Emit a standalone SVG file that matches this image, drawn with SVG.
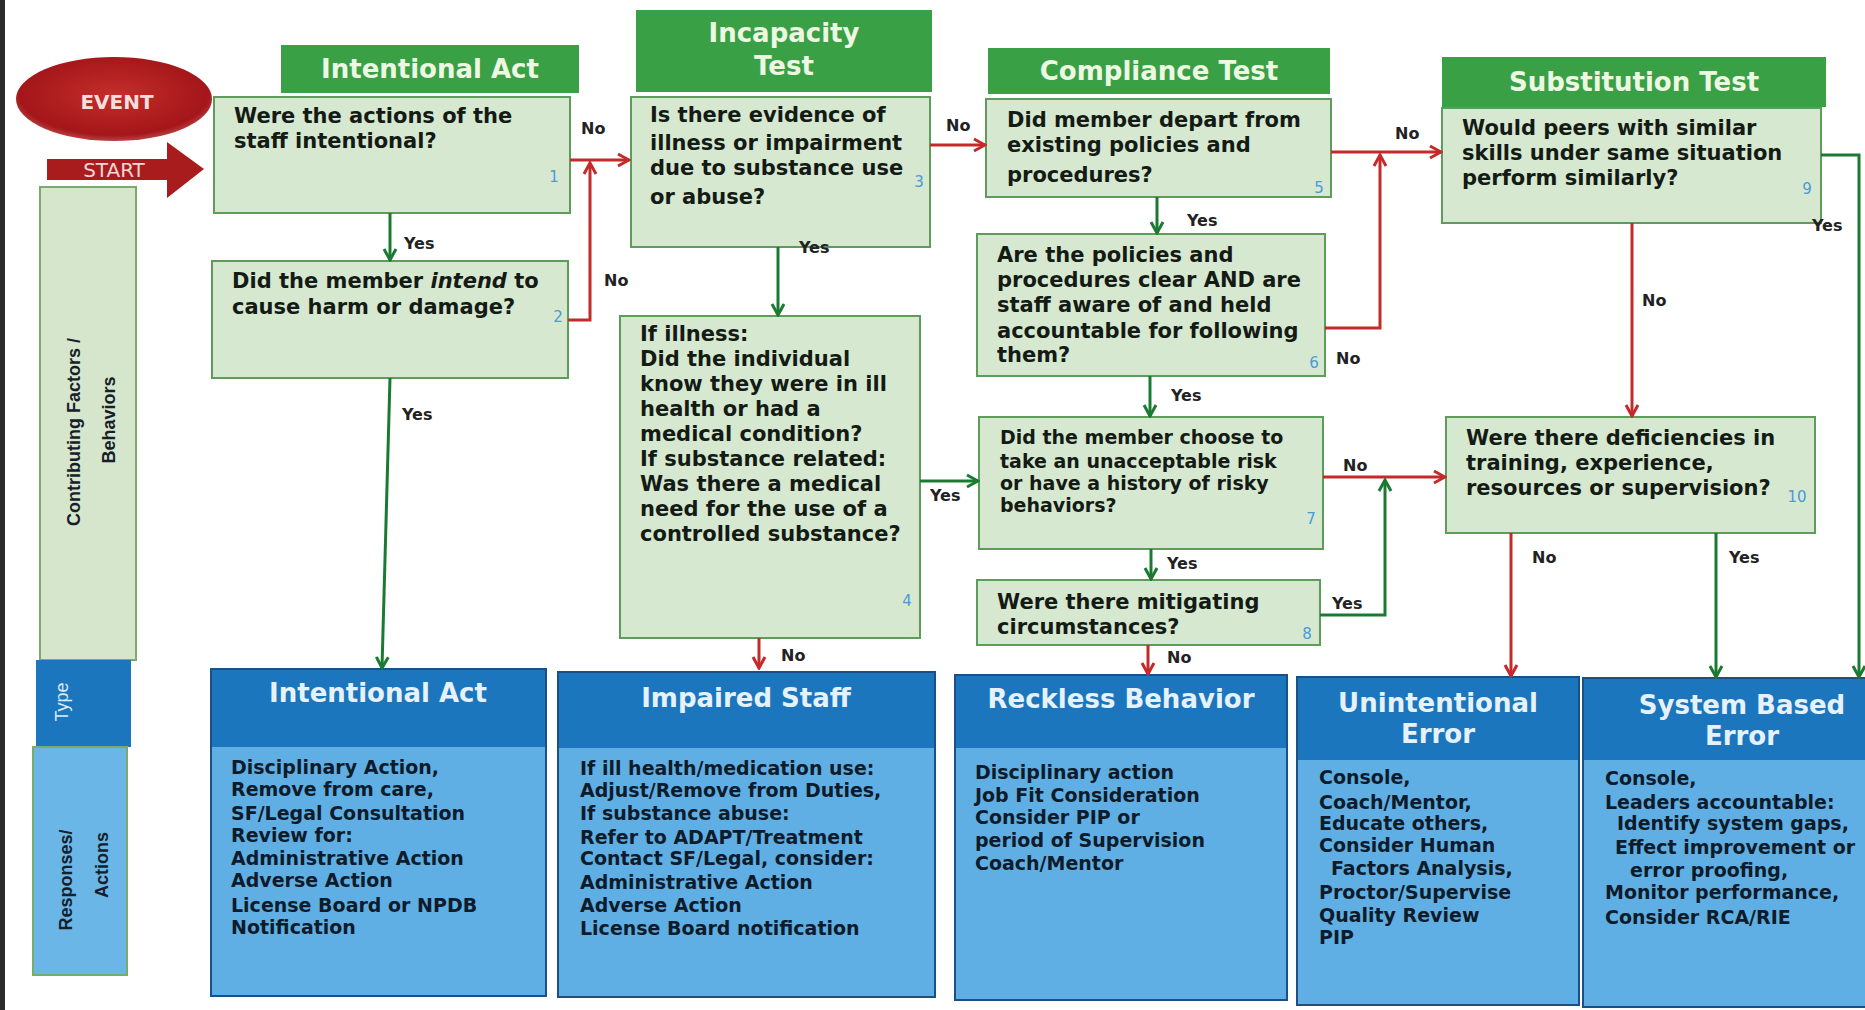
<svg xmlns="http://www.w3.org/2000/svg" width="1865" height="1010" viewBox="0 0 1865 1010">
<defs>
<style>
.t{font-family:"DejaVu Sans","Liberation Sans",sans-serif;font-weight:bold}
.q{font-size:21px;fill:#141a14}
.q7{font-size:19px;fill:#141a14}
.body{font-size:19px;fill:#0e1b2a}
.hdr{font-size:26px;fill:#edf8e2;text-anchor:middle}
.ttl{font-size:26px;fill:#e6f2fb;text-anchor:middle}
.lbl{font-size:16px;fill:#222}
.num{font-family:"DejaVu Sans",sans-serif;font-size:15px;fill:#4a9ad6;text-anchor:middle}
.side{font-family:"Liberation Sans",Arial,sans-serif;font-weight:bold;font-size:18px;fill:#15202a;text-anchor:middle}
.qbox{fill:#d6e8d0;stroke:#5f9c5c;stroke-width:2}
.ghdr{fill:#3aa046}
.bout{fill:#5fafe4;stroke:#1b4f86;stroke-width:2}
.bband{fill:#1c76be}
.cr{fill:none;stroke:#c42a2a;stroke-width:3}
.cg{fill:none;stroke:#1b7a32;stroke-width:3}
</style>
<marker id="ar" viewBox="0 0 16 16" refX="14" refY="8" markerWidth="16" markerHeight="16" markerUnits="userSpaceOnUse" orient="auto">
<path d="M3,2 L14,8 L3,14" fill="none" stroke="#c42a2a" stroke-width="3"/>
</marker>
<marker id="ag" viewBox="0 0 16 16" refX="14" refY="8" markerWidth="16" markerHeight="16" markerUnits="userSpaceOnUse" orient="auto">
<path d="M3,2 L14,8 L3,14" fill="none" stroke="#1b7a32" stroke-width="3"/>
</marker>
<radialGradient id="evg" cx="50%" cy="45%" r="60%">
<stop offset="0" stop-color="#c42e2a"/>
<stop offset="0.8" stop-color="#a4161a"/>
<stop offset="1" stop-color="#c86060"/>
</radialGradient>
</defs>
<rect x="0" y="0" width="1865" height="1010" fill="#ffffff"/>
<rect x="0" y="0" width="5" height="1010" fill="#2b2b2b"/>

<g id="event">
<ellipse cx="114" cy="99" rx="98" ry="42" fill="url(#evg)"/>
<text class="t" x="117" y="109" font-size="20" fill="#f6dede" text-anchor="middle">EVENT</text>
</g>
<g id="start">
<path d="M47,159 H167 V142 L204,169 L167,198 V180 H47 Z" fill="#a81c1e"/>
<text x="114" y="177" font-family="DejaVu Sans,sans-serif" font-size="20" fill="#f6d6d6" text-anchor="middle">START</text>
</g>

<g id="lane-labels">
<rect x="40" y="187" width="96" height="473" fill="#d5e6cc" stroke="#7aab6e" stroke-width="2"/>
<rect x="36" y="660" width="95" height="87" fill="#1c76be"/>
<rect x="33" y="747" width="94" height="228" fill="#6ab6e6" stroke="#7aab6e" stroke-width="2"/>
<text class="side" transform="translate(80,432) rotate(-90)">Contributing Factors /</text>
<text class="side" transform="translate(115,420) rotate(-90)">Behaviors</text>
<text class="side" transform="translate(68,702) rotate(-90)" style="fill:#dcecf8;font-weight:normal">Type</text>
<text class="side" transform="translate(72,880) rotate(-90)">Responses/</text>
<text class="side" transform="translate(108,865) rotate(-90)">Actions</text>
</g>

<g id="hdr-intentional"><rect class="ghdr" x="281" y="45" width="298" height="48"/><text class="t hdr" x="430" y="78">Intentional Act</text></g>
<g id="hdr-incapacity"><rect class="ghdr" x="636" y="10" width="296" height="82"/><text class="t hdr" x="784" y="42">Incapacity</text><text class="t hdr" x="784" y="75">Test</text></g>
<g id="hdr-compliance"><rect class="ghdr" x="988" y="48" width="342" height="46"/><text class="t hdr" x="1159" y="80">Compliance Test</text></g>
<g id="hdr-substitution"><rect class="ghdr" x="1442" y="57" width="384" height="50"/><text class="t hdr" x="1634" y="91">Substitution Test</text></g>

<g id="q1"><rect class="qbox" x="214" y="97" width="356" height="116"/>
<text class="t q" x="234" y="123">Were the actions of the</text>
<text class="t q" x="234" y="148">staff intentional?</text>
<text class="num" x="554" y="182">1</text></g>

<g id="q2"><rect class="qbox" x="212" y="261" width="356" height="117"/>
<text class="t q" x="232" y="288">Did the member <tspan font-style="italic">intend</tspan> to</text>
<text class="t q" x="232" y="314">cause harm or damage?</text>
<text class="num" x="558" y="322">2</text></g>

<g id="q3"><rect class="qbox" x="631" y="97" width="299" height="150"/>
<text class="t q" x="650" y="122">Is there evidence of</text>
<text class="t q" x="650" y="150">illness or impairment</text>
<text class="t q" x="650" y="175">due to substance use</text>
<text class="t q" x="650" y="204">or abuse?</text>
<text class="num" x="919" y="187">3</text></g>

<g id="q4"><rect class="qbox" x="620" y="316" width="300" height="322"/>
<text class="t q" x="640" y="341">If illness:</text>
<text class="t q" x="640" y="366">Did the individual</text>
<text class="t q" x="640" y="391">know they were in ill</text>
<text class="t q" x="640" y="416">health or had a</text>
<text class="t q" x="640" y="441">medical condition?</text>
<text class="t q" x="640" y="466">If substance related:</text>
<text class="t q" x="640" y="491">Was there a medical</text>
<text class="t q" x="640" y="516">need for the use of a</text>
<text class="t q" x="640" y="541">controlled substance?</text>
<text class="num" x="907" y="606">4</text></g>

<g id="q5"><rect class="qbox" x="986" y="99" width="345" height="98"/>
<text class="t q" x="1007" y="127">Did member depart from</text>
<text class="t q" x="1007" y="152">existing  policies and</text>
<text class="t q" x="1007" y="182">procedures?</text>
<text class="num" x="1319" y="193">5</text></g>

<g id="q6"><rect class="qbox" x="977" y="234" width="348" height="142"/>
<text class="t q" x="997" y="262">Are the policies and</text>
<text class="t q" x="997" y="287">procedures clear AND are</text>
<text class="t q" x="997" y="312">staff aware of and held</text>
<text class="t q" x="997" y="338">accountable for following</text>
<text class="t q" x="997" y="362">them?</text>
<text class="num" x="1314" y="368">6</text></g>

<g id="q7"><rect class="qbox" x="979" y="417" width="344" height="132"/>
<text class="t q7" x="1000" y="444">Did the member choose to</text>
<text class="t q7" x="1000" y="468">take an unacceptable risk</text>
<text class="t q7" x="1000" y="490">or have a  history of risky</text>
<text class="t q7" x="1000" y="512">behaviors?</text>
<text class="num" x="1311" y="524">7</text></g>

<g id="q8"><rect class="qbox" x="977" y="580" width="343" height="65"/>
<text class="t q" x="997" y="609">Were there mitigating</text>
<text class="t q" x="997" y="634">circumstances?</text>
<text class="num" x="1307" y="639">8</text></g>

<g id="q9"><rect class="qbox" x="1442" y="108" width="379" height="115"/>
<text class="t q" x="1462" y="135">Would peers with similar</text>
<text class="t q" x="1462" y="160">skills under same situation</text>
<text class="t q" x="1462" y="185">perform similarly?</text>
<text class="num" x="1807" y="194">9</text></g>

<g id="q10"><rect class="qbox" x="1446" y="417" width="369" height="116"/>
<text class="t q" x="1466" y="445">Were there deficiencies in</text>
<text class="t q" x="1466" y="470">training, experience,</text>
<text class="t q" x="1466" y="495">resources  or supervision?</text>
<text class="num" x="1797" y="502">10</text></g>

<g id="type-intentional"><rect class="bout" x="211" y="669" width="335" height="327"/><rect class="bband" x="212" y="670" width="333" height="77"/>
<text class="t ttl" x="378" y="702">Intentional Act</text>
<text class="t body" x="231" y="774">Disciplinary Action,</text>
<text class="t body" x="231" y="796">Remove from care,</text>
<text class="t body" x="231" y="820">SF/Legal  Consultation</text>
<text class="t body" x="231" y="842">Review for:</text>
<text class="t body" x="231" y="865">Administrative Action</text>
<text class="t body" x="231" y="887">Adverse Action</text>
<text class="t body" x="231" y="912">License Board or NPDB</text>
<text class="t body" x="231" y="934">Notification</text></g>

<g id="type-impaired"><rect class="bout" x="558" y="672" width="377" height="325"/><rect class="bband" x="559" y="673" width="375" height="75"/>
<text class="t ttl" x="746" y="707">Impaired Staff</text>
<text class="t body" x="580" y="775">If ill health/medication use:</text>
<text class="t body" x="580" y="797">Adjust/Remove from Duties,</text>
<text class="t body" x="580" y="820">If substance abuse:</text>
<text class="t body" x="580" y="844">Refer  to ADAPT/Treatment</text>
<text class="t body" x="580" y="865">Contact SF/Legal, consider:</text>
<text class="t body" x="580" y="889">Administrative  Action</text>
<text class="t body" x="580" y="912">Adverse Action</text>
<text class="t body" x="580" y="935">License Board notification</text></g>

<g id="type-reckless"><rect class="bout" x="955" y="675" width="332" height="325"/><rect class="bband" x="956" y="676" width="330" height="72"/>
<text class="t ttl" x="1121" y="708">Reckless Behavior</text>
<text class="t body" x="975" y="779">Disciplinary action</text>
<text class="t body" x="975" y="802">Job Fit Consideration</text>
<text class="t body" x="975" y="824">Consider PIP or</text>
<text class="t body" x="975" y="847">period of Supervision</text>
<text class="t body" x="975" y="870">Coach/Mentor</text></g>

<g id="type-unintentional"><rect class="bout" x="1297" y="677" width="282" height="328"/><rect class="bband" x="1298" y="678" width="280" height="82"/>
<text class="t ttl" x="1438" y="712">Unintentional</text>
<text class="t ttl" x="1438" y="743">Error</text>
<text class="t body" x="1319" y="784">Console,</text>
<text class="t body" x="1319" y="809">Coach/Mentor,</text>
<text class="t body" x="1319" y="830">Educate others,</text>
<text class="t body" x="1319" y="852">Consider Human</text>
<text class="t body" x="1331" y="875">Factors Analysis,</text>
<text class="t body" x="1319" y="899">Proctor/Supervise</text>
<text class="t body" x="1319" y="922">Quality  Review</text>
<text class="t body" x="1319" y="944">PIP</text></g>

<g id="type-system"><rect class="bout" x="1583" y="678" width="290" height="329"/><rect class="bband" x="1584" y="679" width="288" height="81"/>
<text class="t ttl" x="1742" y="714">System Based</text>
<text class="t ttl" x="1742" y="745">Error</text>
<text class="t body" x="1605" y="785">Console,</text>
<text class="t body" x="1605" y="809">Leaders accountable:</text>
<text class="t body" x="1617" y="830">Identify system gaps,</text>
<text class="t body" x="1615" y="854">Effect improvement or</text>
<text class="t body" x="1630" y="877">error proofing,</text>
<text class="t body" x="1605" y="899">Monitor  performance,</text>
<text class="t body" x="1605" y="924">Consider RCA/RIE</text></g>

<g id="connectors">
<path class="cg" d="M390,213 V260" marker-end="url(#ag)"/>
<path class="cg" d="M390,378 L382,668" marker-end="url(#ag)"/>
<path class="cr" d="M570,160 H629" marker-end="url(#ar)"/>
<path class="cr" d="M568,320 H590 V163" marker-end="url(#ar)"/>
<path class="cg" d="M778,247 V315" marker-end="url(#ag)"/>
<path class="cr" d="M930,145 H985" marker-end="url(#ar)"/>
<path class="cg" d="M920,481 H978" marker-end="url(#ag)"/>
<path class="cr" d="M759,638 V668" marker-end="url(#ar)"/>
<path class="cg" d="M1157,197 V233" marker-end="url(#ag)"/>
<path class="cr" d="M1325,328 H1380 V155" marker-end="url(#ar)"/>
<path class="cr" d="M1331,152 H1441" marker-end="url(#ar)"/>
<path class="cg" d="M1150,376 V416" marker-end="url(#ag)"/>
<path class="cg" d="M1151,549 V579" marker-end="url(#ag)"/>
<path class="cr" d="M1323,477 H1445" marker-end="url(#ar)"/>
<path class="cg" d="M1320,615 H1385 V480" marker-end="url(#ag)"/>
<path class="cr" d="M1148,645 V674" marker-end="url(#ar)"/>
<path class="cr" d="M1632,223 V416" marker-end="url(#ar)"/>
<path class="cg" d="M1821,155 H1859 V677" marker-end="url(#ag)"/>
<path class="cr" d="M1511,533 V676" marker-end="url(#ar)"/>
<path class="cg" d="M1716,533 V677" marker-end="url(#ag)"/>
<text class="t lbl" x="581" y="134">No</text>
<text class="t lbl" x="404" y="249">Yes</text>
<text class="t lbl" x="604" y="286">No</text>
<text class="t lbl" x="402" y="420">Yes</text>
<text class="t lbl" x="946" y="131">No</text>
<text class="t lbl" x="799" y="253">Yes</text>
<text class="t lbl" x="930" y="501">Yes</text>
<text class="t lbl" x="781" y="661">No</text>
<text class="t lbl" x="1187" y="226">Yes</text>
<text class="t lbl" x="1336" y="364">No</text>
<text class="t lbl" x="1395" y="139">No</text>
<text class="t lbl" x="1171" y="401">Yes</text>
<text class="t lbl" x="1167" y="569">Yes</text>
<text class="t lbl" x="1343" y="471">No</text>
<text class="t lbl" x="1332" y="609">Yes</text>
<text class="t lbl" x="1167" y="663">No</text>
<text class="t lbl" x="1642" y="306">No</text>
<text class="t lbl" x="1812" y="231">Yes</text>
<text class="t lbl" x="1532" y="563">No</text>
<text class="t lbl" x="1729" y="563">Yes</text>
</g>
</svg>
